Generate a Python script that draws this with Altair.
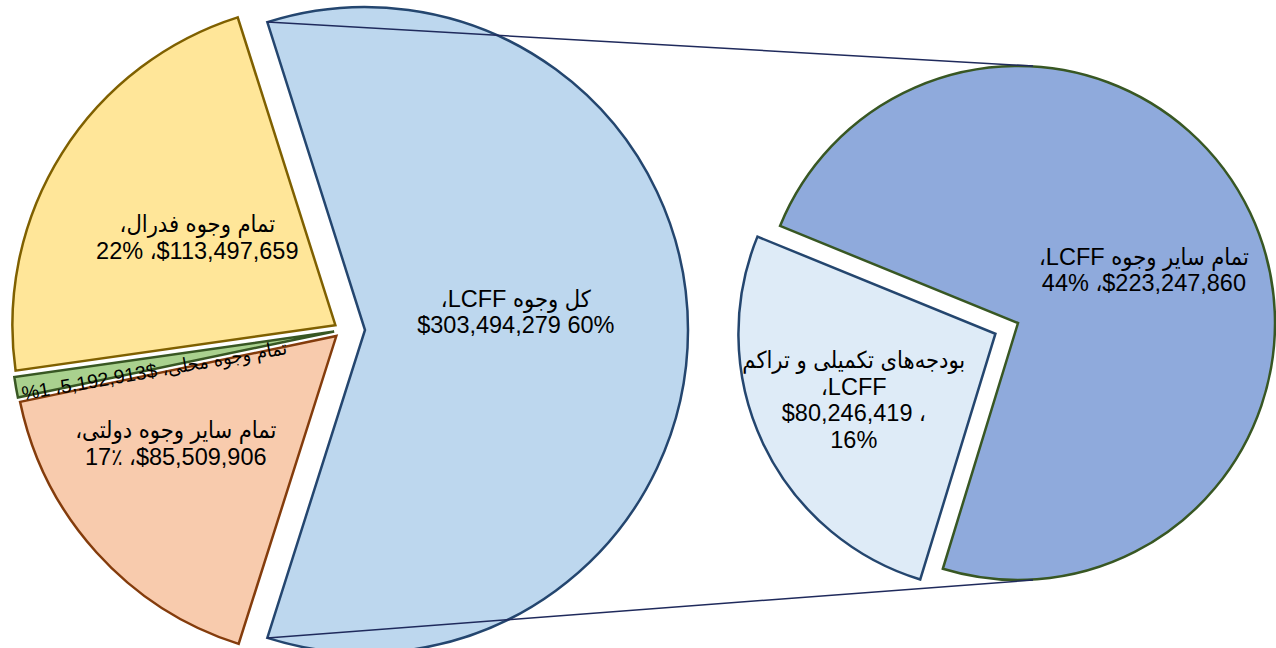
import math
import altair as alt
import pandas as pd

# ---------------- data ----------------
pies = ["main", "main", "main", "main", "sub", "sub"]
slice_order = [0, 1, 2, 3, 0, 1]
values = [303494279, 85509906, 5192913, 113497659, 80246419, 223247860]
RLI, PDI, LRM = "\u2067", "\u2069", "\u200e"
labels = [
    [RLI + "کل وجوه LCFF،" + PDI, "$303,494,279 60%"],
    [RLI + "تمام سایر وجوه دولتی،" + PDI, "17٪ " + LRM + "،" + LRM + "$85,509,906"],
    ["%1 " + LRM + "،" + LRM + "5,192,913$ " + RLI + "تمام وجوه محلی،" + PDI],
    [RLI + "تمام وجوه فدرال،" + PDI, "22% " + LRM + "،" + LRM + "$113,497,659"],
    [RLI + "بودجه‌های تکمیلی و تراکم" + PDI, "،LCFF", "$80,246,419 ،", "16%"],
    [RLI + "تمام سایر وجوه LCFF،" + PDI, "44% " + LRM + "،" + LRM + "$223,247,860"],
]

# ---------------- styles ----------------
fills = ["#BDD7EE", "#F8CBAD", "#A9D18E", "#FFE699", "#DEEBF7", "#8FAADC"]
strokes = ["#24466F", "#843C0C", "#385723", "#7F6000", "#24466F", "#385723"]
explode = [22, 9, 9, 9, 25, 0]
label_frac = [0.47, 0.60, 0.57, 0.505, 0.61, 0.53]
label_shift = [-6.5, 8, -2.5, 0, 0, 3]
rotate_label = [0, 0, 1, 0, 0, 0]
font_sizes = [23.5, 23.5, 19.5, 23.5, 23.5, 23.5]
LINE_H = 26.5
pie_cfg = {
    "main": dict(cx=343, cy=330, r=323, cdeg=90),
    "sub": dict(cx=1018, cy=323, r=257, cdeg=244.6),
}

rows = []
for i in range(len(values)):
    c = pie_cfg[pies[i]]
    rows.append(dict(pie=pies[i], order=slice_order[i], value=values[i],
                     label="\n".join(labels[i]), nlines=len(labels[i]),
                     fill=fills[i], stroke=strokes[i], fsize=font_sizes[i],
                     explode=explode[i], lfrac=label_frac[i], lshift=label_shift[i],
                     rot=rotate_label[i], cx=c["cx"], cy=c["cy"], r=c["r"], cdeg=c["cdeg"]))
df = pd.DataFrame(rows)

base = (
    alt.Chart(df)
    .transform_joinaggregate(total="sum(value)", groupby=["pie"])
    .transform_calculate(firstv="datum.order == 0 ? datum.value : 0")
    .transform_joinaggregate(first_total="sum(firstv)", groupby=["pie"])
    .transform_window(cum="sum(value)", sort=[alt.SortField("order", order="ascending")],
                      groupby=["pie"], frame=[None, 0])
    .transform_calculate(start="datum.cdeg*PI/180 - PI*datum.first_total/datum.total")
    .transform_calculate(t0="datum.start + 2*PI*(datum.cum - datum.value)/datum.total",
                         t1="datum.start + 2*PI*datum.cum/datum.total")
    .transform_calculate(mid="(datum.t0 + datum.t1)/2")
    .transform_calculate(ax="datum.cx + datum.explode*sin(datum.mid)",
                         ay="datum.cy - datum.explode*cos(datum.mid)",
                         la="datum.mid + datum.lshift*PI/180")
    .transform_calculate(lx="datum.ax + datum.lfrac*datum.r*sin(datum.la)",
                         ly="datum.ay - datum.lfrac*datum.r*cos(datum.la) - (datum.nlines - 1)*%s/2" % LINE_H,
                         tangle="datum.rot ? (datum.mid*180/PI + 90) % 360 : 0")
)

arcs = base.mark_arc(strokeWidth=2.5).encode(
    x=alt.X("ax:Q", scale=None, axis=None),
    y=alt.Y("ay:Q", scale=None, axis=None),
    theta=alt.Theta("t0:Q", scale=None, stack=None),
    theta2="t1:Q",
    radius=alt.Radius("r:Q", scale=None),
    fill=alt.Fill("fill:N", scale=None),
    stroke=alt.Stroke("stroke:N", scale=None),
)

texts = base.mark_text(font="Liberation Sans, Arial, DejaVu Sans Condensed, DejaVu Sans",
                       lineBreak="\n", lineHeight=LINE_H,
                       align="center", baseline="middle", color="black").encode(
    x=alt.X("lx:Q", scale=None, axis=None),
    y=alt.Y("ly:Q", scale=None, axis=None),
    text="label:N",
    size=alt.Size("fsize:Q", scale=None),
    angle=alt.Angle("tangle:Q", scale=None),
)

# connector lines: from ends of the main pie's first slice to top/bottom of the sub pie
m = pie_cfg["main"]
s = pie_cfg["sub"]
main_total = sum(v for p, v in zip(pies, values) if p == "main")
half = math.pi * values[0] / main_total
c0 = math.radians(m["cdeg"])
ex = m["cx"] + explode[0] * math.sin(c0)
ey = m["cy"] - explode[0] * math.cos(c0)
conn = pd.DataFrame({
    "x": [ex + m["r"] * math.sin(c0 - half), ex + m["r"] * math.sin(c0 + half)],
    "y": [ey - m["r"] * math.cos(c0 - half), ey - m["r"] * math.cos(c0 + half)],
    "x2": [s["cx"] + 15, s["cx"] + 15],
    "y2": [s["cy"] - s["r"], s["cy"] + s["r"]],
})
lines = alt.Chart(conn).mark_rule(color="#1F2A5C", strokeWidth=1.5).encode(
    x=alt.X("x:Q", scale=None, axis=None), y=alt.Y("y:Q", scale=None, axis=None),
    x2="x2:Q", y2="y2:Q",
)

chart = (
    alt.layer(arcs, lines, texts)
    .properties(width=1276, height=648, autosize=alt.AutoSizeParams(type="none"), padding=0)
    .configure_view(stroke=None)
)

chart.save("out.html", embed_options={"renderer": "svg", "actions": False})
